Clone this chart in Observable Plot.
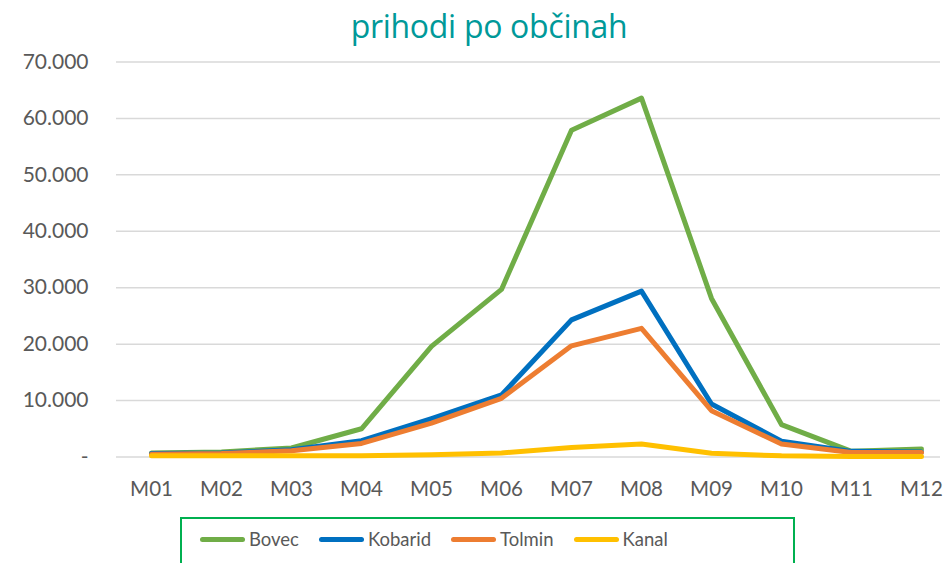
<!DOCTYPE html>
<html>
<head>
<meta charset="utf-8">
<script src="https://cdn.jsdelivr.net/npm/d3@7"></script>
<script src="https://cdn.jsdelivr.net/npm/@observablehq/plot@0.6"></script>
<style>
  html, body { margin: 0; padding: 0; background: #fff; width: 943px; height: 563px; overflow: hidden; }
  #wrap { position: relative; width: 943px; height: 563px; font-family: Lato, "Open Sans", sans-serif; }
  #title { position: absolute; top: 4px; left: 0; width: 978px; text-align: center; color: #009999; font-size: 32px; font-family: "Open Sans", Lato, sans-serif; font-weight: 400; letter-spacing: -0.3px; z-index: 2; }
  #chart { position: absolute; top: 40px; left: 0; }
  #legend { position: absolute; left: 180px; top: 517px; width: 615px; height: 50px; border: 2px solid #00B050; box-sizing: border-box; display: flex; align-items: center; justify-content: flex-start; gap: 20px; padding-left: 18px; padding-bottom: 6px; }
  .item { display: flex; align-items: center; color: #595959; font-size: 18.5px; }
  .sw { width: 45px; height: 5px; border-radius: 3px; margin-right: 4px; }
</style>
</head>
<body>
<div id="wrap">
  <div id="title">prihodi po občinah</div>
  <div id="chart"></div>
  <div id="legend"></div>
</div>
<script>
const months = ["M01","M02","M03","M04","M05","M06","M07","M08","M09","M10","M11","M12"];
const seriesNames = ["Bovec","Kobarid","Tolmin","Kanal"];
const seriesColors = ["#70AD47","#0070C0","#ED7D31","#FFC000"];
const bovec   = [700, 900, 1600, 5000, 19600, 29700, 57900, 63600, 28100, 5750, 1000, 1400];
const kobarid = [600, 700, 1300, 2900, 6800, 11000, 24300, 29400, 9400, 2800, 1000, 900];
const tolmin  = [500, 600, 1100, 2400, 6000, 10400, 19700, 22800, 8200, 2300, 800, 800];
const kanal   = [200, 200, 200, 200, 400, 700, 1700, 2300, 650, 200, 100, 100];
const yTicks = [0, 10000, 20000, 30000, 40000, 50000, 60000, 70000];

const seriesValues = [bovec, kobarid, tolmin, kanal];
const data = seriesNames.flatMap((name, i) =>
  months.map((m, j) => ({ series: name, month: m, value: seriesValues[i][j] })));

const fmt = d => d === 0 ? "-" : d3.format(",")(d).replace(/,/g, ".");

const plot = Plot.plot({
  width: 943,
  height: 470,
  marginLeft: 116,
  marginRight: 3,
  marginTop: 21.5,
  marginBottom: 53.5,
  style: { fontFamily: "Lato, 'Open Sans', sans-serif", fontSize: "21px", color: "#595959", background: "transparent", overflow: "visible" },
  x: { type: "point", domain: months, range: [150, 922], padding: 0, label: null },
  y: { domain: [0, 70000], label: null },
  color: { domain: seriesNames, range: seriesColors },
  marks: [
    Plot.ruleY(yTicks, { stroke: "#d9d9d9", strokeWidth: 1.5 }),
    Plot.axisY({ ticks: yTicks, tickFormat: fmt, tickSize: 0, tickPadding: 28, label: null, fontSize: 21, fill: "#595959" }),
    Plot.axisX({ tickSize: 0, tickPadding: 24, label: null, fontSize: 20.5, fill: "#595959" }),
    Plot.line(data, { x: "month", y: "value", z: "series", stroke: "series", strokeWidth: 5, strokeLinecap: "round", strokeLinejoin: "round" })
  ]
});
document.getElementById("chart").appendChild(plot);

const legend = document.getElementById("legend");
seriesNames.forEach((name, i) => {
  const it = document.createElement("div");
  it.className = "item";
  const sw = document.createElement("div");
  sw.className = "sw";
  sw.style.background = seriesColors[i];
  const tx = document.createElement("span");
  tx.textContent = name;
  it.appendChild(sw);
  it.appendChild(tx);
  legend.appendChild(it);
});
</script>
</body>
</html>
